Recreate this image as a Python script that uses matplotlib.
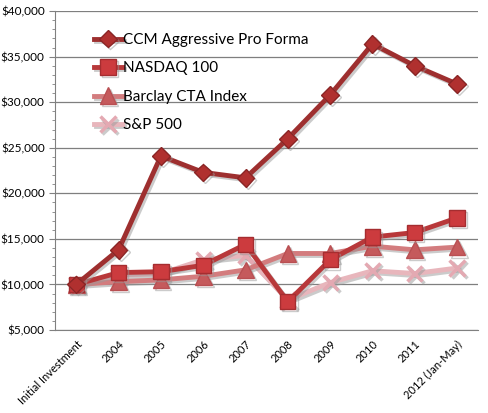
import matplotlib
matplotlib.use("Agg")
import matplotlib.pyplot as plt
import matplotlib.patheffects as pe
from matplotlib.ticker import MultipleLocator, FuncFormatter

plt.rcParams['font.family'] = ['Lato', 'DejaVu Sans']

# categories and series
periods = ['Initial Investment', '2004', '2005', '2006', '2007', '2008',
           '2009', '2010', '2011', '2012 (Jan-May)']
ccm = [10000, 13800, 24100, 22300, 21700, 26000, 30800, 36400, 34000, 32000]
nasdaq = [10000, 11300, 11400, 12100, 14400, 8100, 12700, 15200, 15700, 17300]
barclay = [10000, 10300, 10500, 10900, 11600, 13400, 13400, 14200, 13800, 14100]
sp500 = [10000, 11000, 11200, 12700, 13200, 8300, 10200, 11500, 11200, 11800]

fig = plt.figure(figsize=(4.88, 4.13), dpi=100)
ax = fig.add_axes([0.113, 0.201, 0.867, 0.772])

x = list(range(len(periods)))
shadow = [pe.SimpleLineShadow(offset=(1.5, -1.5), shadow_color='#999999', alpha=0.5), pe.Normal()]

ax.plot(x, sp500, color='#e8b6bc', lw=3.5, marker='x', ms=11, mew=2.5,
        mec='#e4a9b2', label='S&P 500', zorder=3, path_effects=shadow)
ax.plot(x, barclay, color='#d37c7e', lw=3.5, marker='^', ms=12,
        mfc='#c55a5c', mec='#b94f52', label='Barclay CTA Index', zorder=4, path_effects=shadow)
ax.plot(x, nasdaq, color='#b8383a', lw=3.5, marker='s', ms=11,
        mfc='#cc3b3e', mec='#a52d30', label='NASDAQ 100', zorder=5, path_effects=shadow)
ax.plot(x, ccm, color='#9e2f2f', lw=3.5, marker='D', ms=9,
        mfc='#b0302f', mec='#8a2525', label='CCM Aggressive Pro Forma', zorder=6, path_effects=shadow)

ax.set_xlim(-0.5, len(periods) - 0.5)
ax.set_ylim(5000, 40000)
ax.yaxis.set_major_locator(MultipleLocator(5000))
ax.yaxis.set_minor_locator(MultipleLocator(1000))
ax.yaxis.set_major_formatter(FuncFormatter(lambda v, p: '${:,.0f}'.format(v)))
ax.grid(axis='y', color='#7f7f7f', lw=0.9)
ax.set_axisbelow(True)

ax.set_xticks(x)
ax.set_xticklabels(periods, rotation=45, ha='right', rotation_mode='anchor', fontsize=8)
ax.tick_params(axis='x', length=0, pad=6)
ax.tick_params(axis='y', which='major', length=4, color='#808080', labelsize=8.5)
ax.tick_params(axis='y', which='minor', length=2.5, color='#808080')

for s in ['top', 'right']:
    ax.spines[s].set_visible(False)
ax.spines['left'].set_color('#808080')
ax.spines['bottom'].set_color('#808080')

handles, labels = ax.get_legend_handles_labels()
leg = ax.legend(handles[::-1], labels[::-1], loc='upper left', bbox_to_anchor=(0.06, 0.975),
                frameon=False, fontsize=11, handlelength=1.8, handletextpad=0.1,
                labelspacing=0.95)

fig.savefig('out.png', dpi=100)
